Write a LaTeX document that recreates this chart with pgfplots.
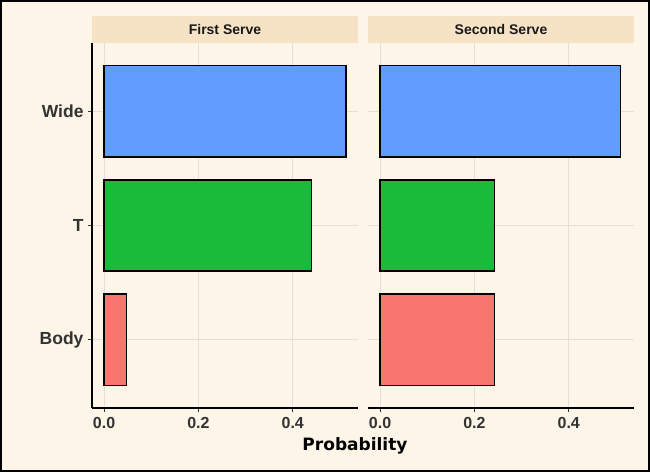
\documentclass[border=0pt]{standalone}
\usepackage{fontspec}
\setmainfont{Liberation Sans}
\newfontfamily\titlefont{DejaVu Sans}
\usepackage{pgfplots}
\pgfplotsset{compat=1.18}

\definecolor{bgc}{RGB}{253,245,231}
\definecolor{stripc}{RGB}{246,226,196}
\definecolor{gridc}{RGB}{226,223,217}
\definecolor{labc}{RGB}{51,51,51}
\definecolor{cbody}{HTML}{F8766D}
\definecolor{ct}{HTML}{1ABB3A}
\definecolor{cwide}{HTML}{619CFF}

\pgfplotsset{
  facet/.style={
    width=266pt, height=365pt, scale only axis,
    anchor=south west,
    xmin=-0.02564, xmax=0.53833, ymin=0.4, ymax=3.6,
    xtick={0,0.2,0.4}, xticklabels={0.0,0.2,0.4},
    ytick={1,2,3},
    xtick pos=bottom, ytick pos=left,
    tick align=outside, major tick length=4pt,
    tick style={labc, line width=0.9pt},
    grid=major, major grid style={gridc, line width=1pt},
    axis line style={draw=none},
    xticklabel style={font=\bfseries\fontsize{16}{16}\selectfont, text=labc, yshift=-1.5pt},
    yticklabel style={font=\bfseries\fontsize{17.5}{17.5}\selectfont, text=labc, xshift=-1pt},
    xbar, bar width=0.8, bar shift=0pt,
    every axis plot/.append style={draw=black, line width=1.3pt},
    clip=false,
  }
}

\begin{document}
\begin{tikzpicture}[x=1pt,y=1pt]
\useasboundingbox (0,0) rectangle (650,472);
\fill[bgc] (0,0) rectangle (650,472);

% panel 1: first serve
\begin{axis}[facet, at={(92pt,64pt)}, yticklabels={Body,T,Wide}]
\addplot[fill=cwide] coordinates {(0.513,3)};
\addplot[fill=ct] coordinates {(0.440,2)};
\addplot[fill=cbody] coordinates {(0.047,1)};
\draw[black, line width=1.5pt] (rel axis cs:0,0) -- (rel axis cs:1,0);
\draw[black, line width=1.5pt] (rel axis cs:0,0) -- (rel axis cs:0,1);
\end{axis}

% panel 2: second serve
\begin{axis}[facet, at={(368pt,64pt)}, yticklabels={,,}, ytick style={draw=none}]
\addplot[fill=cwide] coordinates {(0.509,3)};
\addplot[fill=ct] coordinates {(0.243,2)};
\addplot[fill=cbody] coordinates {(0.243,1)};
\draw[black, line width=1.5pt] (rel axis cs:0,0) -- (rel axis cs:1,0);
\end{axis}

% strips
\fill[stripc] (92,429) rectangle (358,456);
\fill[stripc] (368,429) rectangle (634,456);
\node[font=\bfseries\fontsize{14}{14}\selectfont, text={rgb,255:red,26;green,26;blue,26}] at (225,442.5) {First Serve};
\node[font=\bfseries\fontsize{14}{14}\selectfont, text={rgb,255:red,26;green,26;blue,26}] at (501,442.5) {Second Serve};

\node[font=\titlefont\bfseries\fontsize{17}{17}\selectfont, anchor=base] at (355,22) {Probability};

\draw[black, line width=2pt] (1,1) rectangle (649,471);
\end{tikzpicture}
\end{document}
